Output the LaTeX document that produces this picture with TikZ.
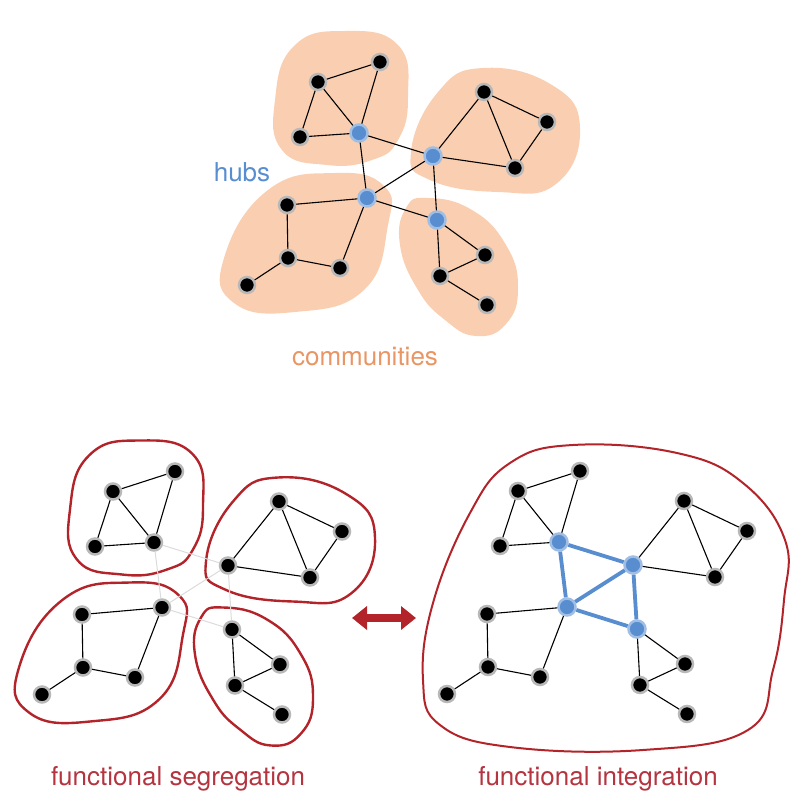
\documentclass[tikz,border=0pt]{standalone}
\usepackage{fontspec}
\setmainfont{TeX Gyre Heros}
\usepackage{tikz}
\usetikzlibrary{arrows.meta, positioning}
\definecolor{blobfill}{RGB}{250,206,176}
\definecolor{commorange}{RGB}{233,150,100}
\definecolor{hubblue}{RGB}{88,142,208}
\definecolor{hubhalo}{RGB}{160,190,228}
\definecolor{outlinered}{RGB}{178,36,42}
\definecolor{labelred}{RGB}{180,52,64}
\newcommand\labelfont{\fontsize{26}{30}\selectfont}

% the four communities, in the coordinates of the top network
\newcommand\communityblobs[1]{%
\draw[#1] plot[smooth cycle, tension=0.8] coordinates {(345,31) (398,45) (408,97) (398,140) (372,160) (327,165) (282,150) (275,100) (294,46)};
\draw[#1] plot[smooth cycle, tension=0.8] coordinates {(483,68) (552,85) (580,128) (556,184) (498,192) (430,180) (411,152) (438,92)};
\draw[#1] plot[smooth cycle, tension=0.8] coordinates {(335,173) (384,186) (388,225) (364,290) (295,312) (234,303) (224,258) (268,190)};
\draw[#1] plot[smooth cycle, tension=0.8] coordinates {(428,198) (472,210) (506,245) (518,288) (506,324) (476,336) (445,320) (418,290) (400,245) (406,208)};
}

% nodes and connections of one network
\newcommand\brainnet{%
\foreach \n/\x/\y in {h1/359/133, h2/433/156, h3/367/198, h4/437/220}
\node[hub] (\n) at (\x,\y) {};
\foreach \n/\x/\y in {a1/318/82, a2/380/62, a3/300/137,
 b1/484/92, b2/547/122, b3/515/168,
 c1/287/205, c2/288/258, c3/340/268, c4/247/285,
 d1/485/255, d2/440/276, d3/487/305}
\node[vertex] (\n) at (\x,\y) {};
\foreach \u/\v in {a1/a2, a1/a3, a1/h1, a2/h1, a3/h1,
 b1/b2, b2/b3, b1/b3, b1/h2, b3/h2,
 h3/c1, c1/c2, c2/c3, c2/c4, h3/c3,
 h4/d1, h4/d2, d2/d1, d2/d3}
\draw[edge] (\u) -- (\v);
\foreach \u/\v in {h1/h2, h1/h3, h2/h3, h2/h4, h3/h4}
\draw[link] (\u) -- (\v);
}

\begin{document}
\begin{tikzpicture}[x=1pt, y=-1pt,
 vertex/.style={circle, fill=black, draw=black!28, line width=2.5pt, minimum size=16pt, inner sep=0pt},
 hub/.style={circle, fill=hubblue, draw=hubhalo, line width=2.5pt, minimum size=17pt, inner sep=0pt},
 edge/.style={black, line width=1.1pt},
 link/.style={edge}]
\useasboundingbox (0,0) rectangle (793,806);

% top: communities and hubs
\communityblobs{draw=none, fill=blobfill}
\brainnet
\node[text=hubblue, font=\labelfont] (hubs) at (242,172) {hubs};
\node[text=commorange, font=\labelfont] (communities) at (365,356) {communities};

% bottom left: segregation
\begin{scope}[shift={(-205,409.5)}, name prefix=seg-,
 hub/.style={vertex}, link/.style={black!14, line width=1pt}]
\communityblobs{draw=outlinered, line width=2.4pt}
\brainnet
\end{scope}
\node[text=labelred, font=\labelfont] (segregation) at (178,779) {functional segregation};

% bottom right: integration
\draw[outlinered, line width=2pt] plot[smooth cycle, tension=0.7] coordinates {(573,445) (677,453) (743,483) (785,540) (784,600) (773,670) (748,730) (643,750) (510,747) (440,725) (423,680) (433,603) (470,513) (510,463)};
\begin{scope}[shift={(200,409)}, name prefix=int-,
 link/.style={hubblue, line width=3.8pt}]
\brainnet
\end{scope}
\node[text=labelred, font=\labelfont] (integration) at (598,779) {functional integration};

% double arrow
\coordinate (arrL) at (352,618);
\coordinate (arrR) at (416,618);
\draw[{Triangle[length=15pt, width=23pt]}-{Triangle[length=15pt, width=23pt]}, outlinered, line width=8pt] (arrL) -- (arrR);
\end{tikzpicture}
\end{document}
